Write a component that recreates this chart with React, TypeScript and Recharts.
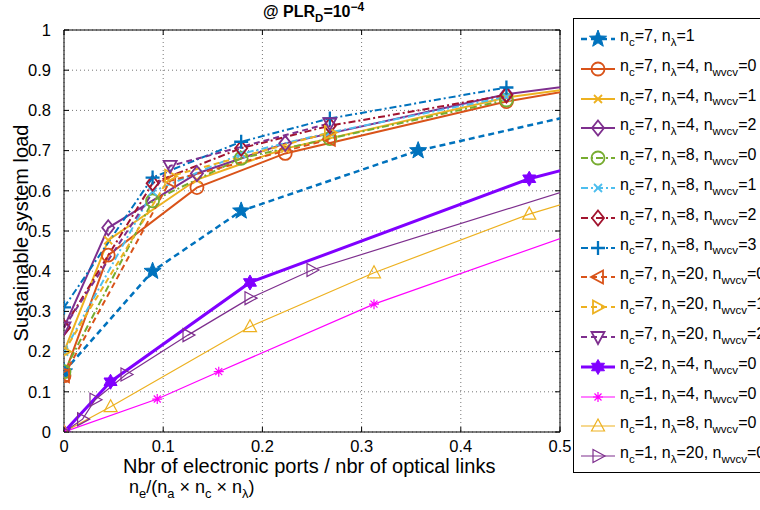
import React from "react";
import { LineChart, Line, XAxis, YAxis, CartesianGrid, ReferenceLine } from "recharts";

const xTicks = [0, 0.1, 0.2, 0.3, 0.4, 0.5];
const yTicks = [0, 0.1, 0.2, 0.3, 0.4, 0.5, 0.6, 0.7, 0.8, 0.9, 1];

// n_c=7, n_lambda=1
const xC7L1 = [0, 0.0893, 0.1786, 0.357, 0.714];
const yC7L1 = [0.15, 0.4, 0.55, 0.7, 0.9];

// n_c=7, n_lambda=4
const xC7L4 = [0, 0.0446, 0.134, 0.223, 0.446, 0.67];
const yC7L4W0 = [0.14, 0.44, 0.608, 0.693, 0.822, 0.918];
const yC7L4W1 = [0.2, 0.477, 0.628, 0.705, 0.832, 0.906];
const yC7L4W2 = [0.26, 0.508, 0.643, 0.718, 0.84, 0.914];

// n_c=7, n_lambda=8
const xC7L8 = [0, 0.0893, 0.1786, 0.268, 0.446];
const yC7L8W0 = [0.15, 0.575, 0.681, 0.73, 0.826];
const yC7L8W1 = [0.2, 0.598, 0.692, 0.745, 0.834];
const yC7L8W2 = [0.26, 0.619, 0.706, 0.762, 0.838];
const yC7L8W3 = [0.31, 0.633, 0.722, 0.78, 0.857];

// n_c=7, n_lambda=20
const xC7L20 = [0, 0.107, 0.268];
const yC7L20W0 = [0.14, 0.625, 0.728];
const yC7L20W1 = [0.2, 0.636, 0.745];
const yC7L20W2 = [0.26, 0.662, 0.768];

// n_c=2 / n_c=1
const xC2L4 = [0, 0.0469, 0.1875, 0.469, 0.75];
const yC2L4 = [0, 0.125, 0.372, 0.63, 0.81];
const xC1L4 = [0, 0.094, 0.156, 0.3125, 0.625];
const yC1L4 = [0, 0.082, 0.15, 0.318, 0.59];
const xC1L8 = [0, 0.047, 0.1875, 0.3125, 0.469, 0.625];
const yC1L8 = [0, 0.063, 0.262, 0.396, 0.542, 0.657];
const xC1L20 = [0, 0.01875, 0.03125, 0.0625, 0.125, 0.1875, 0.25, 0.625];
const yC1L20 = [0, 0.032, 0.08, 0.143, 0.241, 0.333, 0.403, 0.692];

const zip = (xs: number[], ys: number[]) => xs.map((x, i) => ({ x, y: ys[i] }));

const BLUE = "#0072BD";
const ORANGE = "#D95319";
const YELLOW = "#EDB120";
const PURPLE = "#7E2F8E";
const GREEN = "#77AC30";
const CYAN = "#4DBEEE";
const DARKRED = "#A2142F";
const VIOLET = "#8000FF";
const MAGENTA = "#FF00FF";

const DASH = "6 4";
const DASHDOT = "7 3 2 3";

// plot box (matches chart margins below)
const LEFT = 64;
const RIGHT = 560;
const TOP = 30;
const BOTTOM = 432;

type Shape =
  | "star" | "circle" | "x" | "diamond" | "plus" | "triL" | "triR" | "triD" | "triU" | "hex" | "ast";

const series = [
  { nc: 7, nl: 1, nw: null, color: BLUE, dash: DASH, w: 2.5, shape: "star", data: zip(xC7L1, yC7L1) },
  { nc: 7, nl: 4, nw: 0, color: ORANGE, dash: undefined, w: 2, shape: "circle", data: zip(xC7L4, yC7L4W0) },
  { nc: 7, nl: 4, nw: 1, color: YELLOW, dash: undefined, w: 2, shape: "x", data: zip(xC7L4, yC7L4W1) },
  { nc: 7, nl: 4, nw: 2, color: PURPLE, dash: undefined, w: 2, shape: "diamond", data: zip(xC7L4, yC7L4W2) },
  { nc: 7, nl: 8, nw: 0, color: GREEN, dash: DASHDOT, w: 2, shape: "circle", data: zip(xC7L8, yC7L8W0) },
  { nc: 7, nl: 8, nw: 1, color: CYAN, dash: DASHDOT, w: 2, shape: "x", data: zip(xC7L8, yC7L8W1) },
  { nc: 7, nl: 8, nw: 2, color: DARKRED, dash: DASHDOT, w: 2, shape: "diamond", data: zip(xC7L8, yC7L8W2) },
  { nc: 7, nl: 8, nw: 3, color: BLUE, dash: DASHDOT, w: 2, shape: "plus", data: zip(xC7L8, yC7L8W3) },
  { nc: 7, nl: 20, nw: 0, color: ORANGE, dash: DASH, w: 2, shape: "triL", data: zip(xC7L20, yC7L20W0) },
  { nc: 7, nl: 20, nw: 1, color: YELLOW, dash: DASH, w: 2, shape: "triR", data: zip(xC7L20, yC7L20W1) },
  { nc: 7, nl: 20, nw: 2, color: PURPLE, dash: DASH, w: 2, shape: "triD", data: zip(xC7L20, yC7L20W2) },
  { nc: 2, nl: 4, nw: 0, color: VIOLET, dash: undefined, w: 3, shape: "hex", data: zip(xC2L4, yC2L4) },
  { nc: 1, nl: 4, nw: 0, color: MAGENTA, dash: undefined, w: 1.2, shape: "ast", data: zip(xC1L4, yC1L4) },
  { nc: 1, nl: 8, nw: 0, color: YELLOW, dash: undefined, w: 1.2, shape: "triU", data: zip(xC1L8, yC1L8) },
  { nc: 1, nl: 20, nw: 0, color: PURPLE, dash: undefined, w: 1.2, shape: "triR", data: zip(xC1L20, yC1L20) },
] as { nc: number; nl: number; nw: number | null; color: string; dash?: string; w: number; shape: Shape; data: { x: number; y: number }[] }[];

function starPoints(cx: number, cy: number, R: number, n: number, inner: number) {
  const pts: string[] = [];
  for (let i = 0; i < n * 2; i++) {
    const r = i % 2 === 0 ? R : R * inner;
    const a = -Math.PI / 2 + (i * Math.PI) / n;
    pts.push(`${cx + r * Math.cos(a)},${cy + r * Math.sin(a)}`);
  }
  return pts.join(" ");
}

function Mark({ cx, cy, shape, color, sw }: { cx: number; cy: number; shape: Shape; color: string; sw: number }) {
  const p = { stroke: color, strokeWidth: sw, fill: "none" };
  switch (shape) {
    case "star":
      return <polygon points={starPoints(cx, cy, 9, 5, 0.42)} fill={color} stroke={color} strokeWidth={1} />;
    case "hex":
      return <polygon points={starPoints(cx, cy, 7.5, 6, 0.58)} fill={color} stroke={color} strokeWidth={1} />;
    case "circle":
      return <circle cx={cx} cy={cy} r={6.5} {...p} />;
    case "x":
      return (
        <path d={`M${cx - 4},${cy - 4}L${cx + 4},${cy + 4}M${cx - 4},${cy + 4}L${cx + 4},${cy - 4}`} {...p} />
      );
    case "plus":
      return <path d={`M${cx - 7},${cy}L${cx + 7},${cy}M${cx},${cy - 7}L${cx},${cy + 7}`} {...p} strokeWidth={sw + 0.5} />;
    case "ast":
      return (
        <path
          d={`M${cx - 5},${cy}L${cx + 5},${cy}M${cx},${cy - 5}L${cx},${cy + 5}M${cx - 3.5},${cy - 3.5}L${cx + 3.5},${cy + 3.5}M${cx - 3.5},${cy + 3.5}L${cx + 3.5},${cy - 3.5}`}
          {...p}
        />
      );
    case "diamond":
      return <polygon points={`${cx},${cy - 7.5} ${cx + 6},${cy} ${cx},${cy + 7.5} ${cx - 6},${cy}`} {...p} />;
    case "triL":
      return <polygon points={`${cx - 7},${cy} ${cx + 5},${cy - 6.5} ${cx + 5},${cy + 6.5}`} {...p} />;
    case "triR":
      return <polygon points={`${cx + 7},${cy} ${cx - 5},${cy - 6.5} ${cx - 5},${cy + 6.5}`} {...p} />;
    case "triD":
      return <polygon points={`${cx},${cy + 7} ${cx - 6.5},${cy - 5} ${cx + 6.5},${cy - 5}`} {...p} />;
    case "triU":
      return <polygon points={`${cx},${cy - 7} ${cx - 6.5},${cy + 5} ${cx + 6.5},${cy + 5}`} {...p} />;
  }
  return null;
}

const Sub = ({ children }: { children: React.ReactNode }) => (
  <span style={{ fontSize: "0.72em", position: "relative", top: "0.42em" }}>{children}</span>
);

function LegendLabel({ nc, nl, nw }: { nc: number; nl: number; nw: number | null }) {
  return (
    <span>
      n<Sub>c</Sub>={nc}, n<Sub>λ</Sub>={nl}
      {nw !== null && (
        <>
          , n<Sub>wvcv</Sub>={nw}
        </>
      )}
    </span>
  );
}

const FONT = "'Liberation Sans', Arial, Helvetica, sans-serif";

// MATLAB-style inward ticks on both sides of the box
const XTick = ({ x, y, payload }: any) => (
  <g>
    <line x1={x} x2={x} y1={BOTTOM} y2={BOTTOM - 5} stroke="#000" />
    <line x1={x} x2={x} y1={TOP} y2={TOP + 5} stroke="#000" />
    <text x={x} y={y} dy="0.71em" textAnchor="middle" fill="#000" fontSize={16.5} fontFamily={FONT}>
      {`${payload.value}`}
    </text>
  </g>
);

const YTick = ({ x, y, payload }: any) => (
  <g>
    <line x1={LEFT} x2={LEFT + 5} y1={y} y2={y} stroke="#000" />
    <line x1={RIGHT} x2={RIGHT - 5} y1={y} y2={y} stroke="#000" />
    <text x={x} y={y} dy="0.355em" textAnchor="end" fill="#000" fontSize={16.5} fontFamily={FONT}>
      {`${payload.value}`}
    </text>
  </g>
);

export default function App() {
  return (
    <div
      style={{
        position: "absolute",
        left: 0,
        top: 0,
        width: 760,
        height: 510,
        background: "#fff",
        overflow: "hidden",
        fontFamily: FONT,
      }}
    >
      <LineChart width={760} height={510} margin={{ top: TOP, right: 760 - RIGHT, bottom: 48, left: 24 }}>
        <CartesianGrid stroke="#777" strokeDasharray="1 3" />
        <XAxis
          type="number"
          dataKey="x"
          domain={[0, 0.5]}
          ticks={xTicks}
          allowDataOverflow
          height={30}
          stroke="#000"
          tickLine={false}
          tickMargin={2}
          tick={<XTick />}
        />
        <YAxis
          type="number"
          dataKey="y"
          domain={[0, 1]}
          ticks={yTicks}
          allowDataOverflow
          width={40}
          stroke="#000"
          tickLine={false}
          tickMargin={7}
          tick={<YTick />}
        />
        <ReferenceLine x={0.5} stroke="#000" strokeWidth={1} />
        <ReferenceLine y={1} stroke="#000" strokeWidth={1} />
        {series.map((s, i) => (
          <Line
            key={i}
            data={s.data}
            dataKey="y"
            type="linear"
            stroke={s.color}
            strokeWidth={s.w}
            strokeDasharray={s.dash}
            isAnimationActive={false}
            activeDot={false}
            legendType="none"
            dot={(d: any) => (
              <Mark
                key={`d${i}-${d.index}`}
                cx={d.cx}
                cy={d.cy}
                shape={s.shape}
                color={s.color}
                sw={s.w >= 2 ? 1.8 : 1.2}
              />
            )}
          />
        ))}
      </LineChart>

      {/* title */}
      <div
        style={{
          position: "absolute",
          left: 263,
          top: 3,
          fontSize: 16,
          fontWeight: "bold",
          whiteSpace: "nowrap",
        }}
      >
        @ PLR<Sub>D</Sub>=10<span style={{ fontSize: "0.75em", position: "relative", top: "-0.5em" }}>−4</span>
      </div>

      {/* y label */}
      <div
        style={{
          position: "absolute",
          left: 21,
          top: 233,
          fontSize: 20,
          whiteSpace: "nowrap",
          transform: "translate(-50%, -50%) rotate(-90deg)",
        }}
      >
        Sustainable system load
      </div>

      {/* x label */}
      <div style={{ position: "absolute", left: 123, top: 455, fontSize: 20, whiteSpace: "nowrap" }}>
        Nbr of electronic ports / nbr of optical links
      </div>
      <div style={{ position: "absolute", left: 129, top: 477, fontSize: 18, whiteSpace: "nowrap" }}>
        n<Sub>e</Sub>/(n<Sub>a</Sub> × n<Sub>c</Sub> × n<Sub>λ</Sub>)
      </div>

      {/* legend */}
      <div
        style={{
          position: "absolute",
          left: 573,
          top: 18,
          width: 220,
          height: 455,
          border: "1px solid #000",
          background: "#fff",
          boxSizing: "border-box",
        }}
      >
        {series.map((s, i) => (
          <div
            key={i}
            style={{
              position: "absolute",
              left: 6,
              top: 8 + i * 29.8,
              height: 24,
              display: "flex",
              alignItems: "center",
              whiteSpace: "nowrap",
              fontSize: 16,
            }}
          >
            <svg width={36} height={24} style={{ flex: "none" }}>
              <line x1={1} y1={12} x2={35} y2={12} stroke={s.color} strokeWidth={s.w} strokeDasharray={s.dash} />
              <Mark cx={18} cy={12} shape={s.shape} color={s.color} sw={s.w >= 2 ? 1.8 : 1.2} />
            </svg>
            <span style={{ marginLeft: 4, position: "relative", top: -3 }}>
              <LegendLabel nc={s.nc} nl={s.nl} nw={s.nw} />
            </span>
          </div>
        ))}
      </div>
    </div>
  );
}
